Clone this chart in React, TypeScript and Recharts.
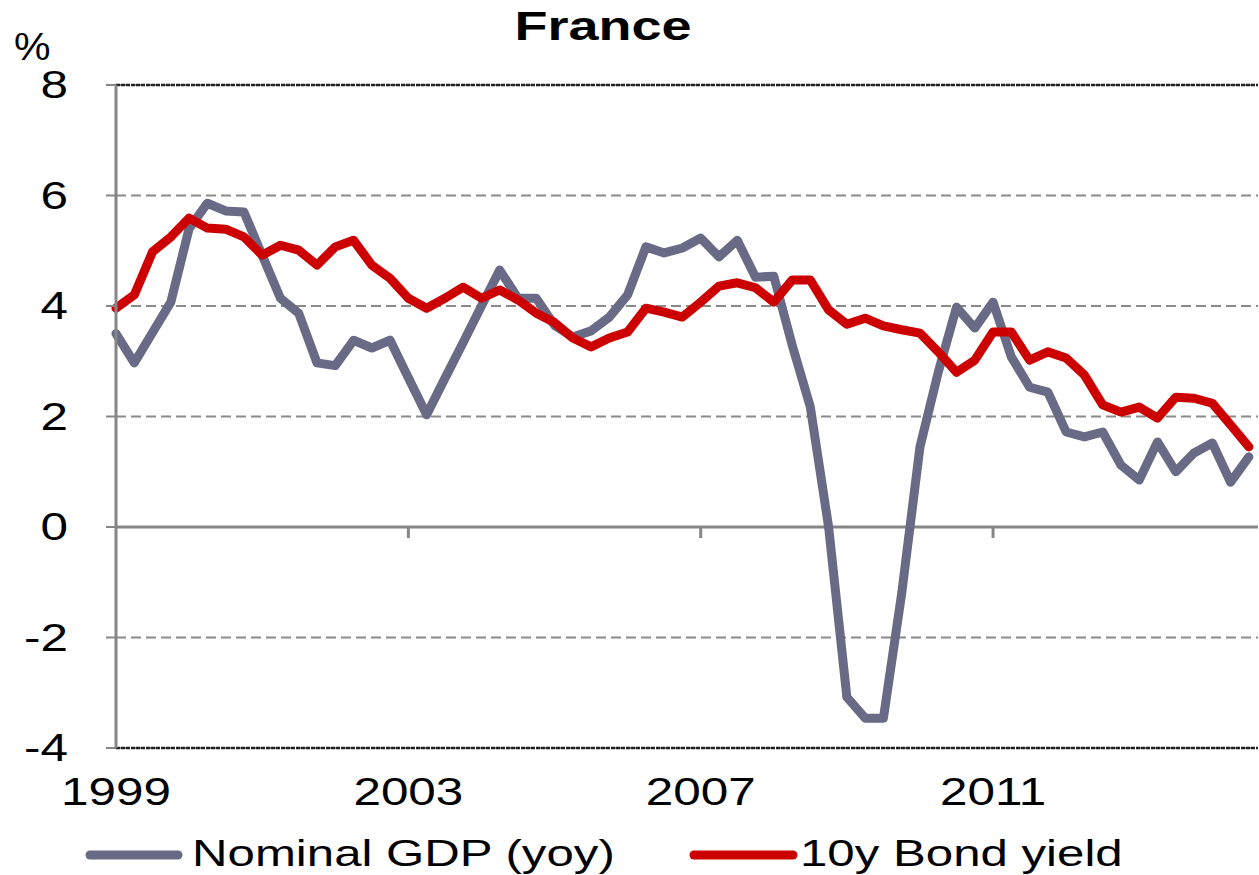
import React from "react";
import {
  LineChart,
  Line,
  XAxis,
  YAxis,
  CartesianGrid,
  ReferenceLine,
} from "recharts";

// quarterly, 1999 Q1 .. 2014 Q3
export const gdp = [
  3.5, 2.97, 3.52, 4.07, 5.4, 5.86, 5.72, 5.7, 4.92, 4.14, 3.87, 2.97, 2.92,
  3.38, 3.24, 3.38, 2.7, 2.03, 2.69, 3.34, 4.0, 4.65, 4.14, 4.14, 3.65, 3.44,
  3.55, 3.8, 4.2, 5.07, 4.96, 5.05, 5.23, 4.89, 5.19, 4.52, 4.54, 3.3, 2.17,
  0.0, -3.08, -3.46, -3.46, -1.2, 1.45, 2.8, 3.98, 3.6, 4.07, 3.08, 2.53, 2.44,
  1.72, 1.63, 1.72, 1.12, 0.85, 1.54, 1.0, 1.34, 1.52, 0.81, 1.27,
];

export const bond = [
  3.96, 4.2, 4.98, 5.25, 5.59, 5.41, 5.39, 5.25, 4.92, 5.1, 5.01, 4.74, 5.07,
  5.19, 4.74, 4.5, 4.14, 3.96, 4.14, 4.34, 4.14, 4.29, 4.11, 3.87, 3.7, 3.42,
  3.26, 3.42, 3.53, 3.96, 3.89, 3.8, 4.07, 4.36, 4.42, 4.33, 4.07, 4.47, 4.47,
  3.93, 3.67, 3.78, 3.64, 3.57, 3.51, 3.17, 2.8, 3.02, 3.53, 3.53, 3.02, 3.17,
  3.06, 2.75, 2.21, 2.08, 2.17, 1.97, 2.35, 2.33, 2.24, 1.85, 1.45,
];

export const yearTicks = [0, 16, 32, 48];
export const yearLabels = ["1999", "2003", "2007", "2011"];
export const yTicks = [-4, -2, 0, 2, 4, 6, 8];

const data = gdp.map((v, i) => ({
  i,
  period: `${1999 + Math.floor(i / 4)} Q${(i % 4) + 1}`,
  gdp: v,
  bond: bond[i],
}));

const FONT = "'Liberation Sans', Arial, sans-serif";
const GREY = "#696a85";
const RED = "#cc0000";
const AXIS = "#868686";

function Stretch({ x, y, anchor = "start", size = 38, sx = 1.3, weight = 400, children }: any) {
  return (
    <text
      transform={`translate(${x},${y}) scale(${sx},1)`}
      textAnchor={anchor}
      fontSize={size}
      fontWeight={weight}
      fontFamily={FONT}
      fill="#000"
    >
      {children}
    </text>
  );
}

const XTick = ({ x, y, payload }: any) => {
  const idx = yearTicks.indexOf(payload.value);
  return (
    <Stretch x={x} y={y + 57} anchor="middle">
      {yearLabels[idx]}
    </Stretch>
  );
};

const YTick = ({ x, y, payload }: any) => (
  <Stretch x={x} y={y + 13} anchor="end">
    {payload.value}
  </Stretch>
);

export default function App() {
  return (
    <div style={{ position: "absolute", left: 0, top: 0, width: 1259, height: 875, background: "#fff" }}>
      <LineChart
        width={1259}
        height={875}
        data={data}
        margin={{ top: 85, right: 1, left: 0, bottom: 67 }}
      >
        <CartesianGrid
          vertical={false}
          stroke="#8a8a8a"
          strokeWidth={2}
          strokeDasharray="10 5"
        />
        <XAxis
          type="number"
          dataKey="i"
          domain={[0, 62.5]}
          ticks={yearTicks}
          tick={<XTick />}
          tickSize={0}
          tickMargin={0}
          axisLine={false}
          tickLine={false}
          height={60}
        />
        <YAxis
          type="number"
          domain={[-4, 8]}
          ticks={yTicks}
          width={116}
          tick={<YTick />}
          tickSize={10}
          tickMargin={38}
          axisLine={{ stroke: AXIS, strokeWidth: 3 }}
          tickLine={{ stroke: AXIS, strokeWidth: 2 }}
        />
        <ReferenceLine y={8} stroke="#222" strokeWidth={2.5} strokeDasharray="4 1" />
        <ReferenceLine y={-4} stroke="#222" strokeWidth={2.5} strokeDasharray="4 1" />
        <ReferenceLine y={0} stroke={AXIS} strokeWidth={3} />
        {yearTicks.slice(1).map((t) => (
          <ReferenceLine
            key={t}
            segment={[
              { x: t, y: 0 },
              { x: t, y: -0.2 },
            ]}
            stroke={AXIS}
            strokeWidth={3}
            ifOverflow="visible"
          />
        ))}
        <Line
          type="linear"
          dataKey="gdp"
          stroke={GREY}
          strokeWidth={9}
          strokeLinejoin="round"
          strokeLinecap="round"
          dot={false}
          isAnimationActive={false}
        />
        <Line
          type="linear"
          dataKey="bond"
          stroke={RED}
          strokeWidth={9}
          strokeLinejoin="round"
          strokeLinecap="round"
          dot={false}
          isAnimationActive={false}
        />
      </LineChart>
      <svg
        width={1259}
        height={875}
        style={{ position: "absolute", left: 0, top: 0, pointerEvents: "none" }}
      >
        <Stretch x={603} y={40} anchor="middle" size={40} sx={1.35} weight={700}>
          France
        </Stretch>
        <Stretch x={14} y={60} size={38} sx={1.08}>
          %
        </Stretch>
        <line x1={90} y1={855} x2={178} y2={855} stroke={GREY} strokeWidth={9} strokeLinecap="round" />
        <Stretch x={192} y={866} size={37} sx={1.33}>Nominal GDP (yoy)</Stretch>
        <line x1={694} y1={855} x2={793} y2={855} stroke={RED} strokeWidth={9} strokeLinecap="round" />
        <Stretch x={800} y={866} size={37} sx={1.33}>10y Bond yield</Stretch>
      </svg>
    </div>
  );
}
